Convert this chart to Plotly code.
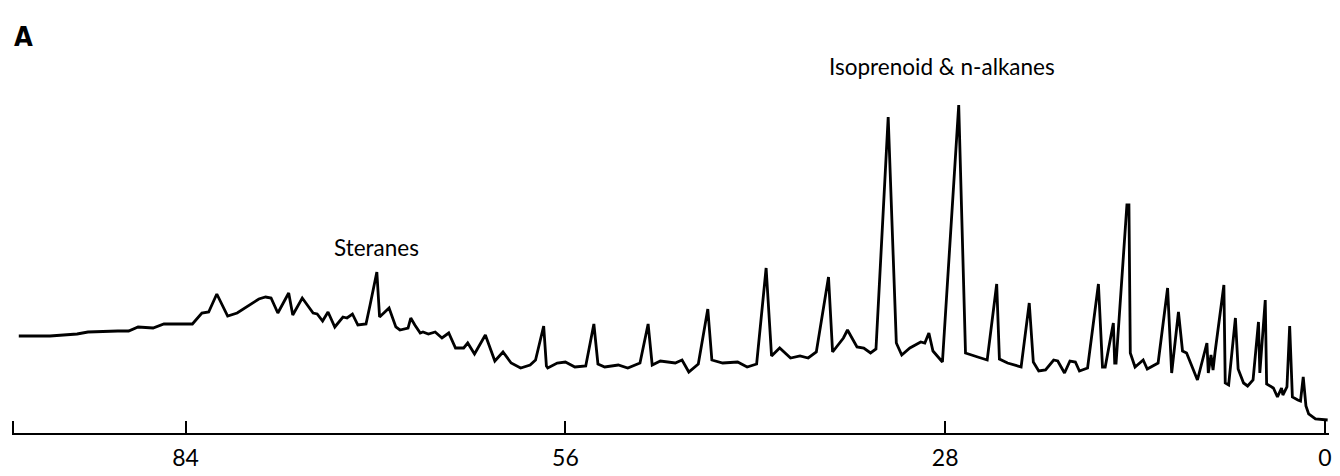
import plotly.graph_objects as go

# Retention time (min) and detector response (arbitrary units)
time_min = [
    96.3, 94.0, 92.0, 91.2, 89.0, 88.2, 87.5, 86.4, 85.6, 83.5, 82.8, 82.3, 81.7, 80.9, 80.2,
    78.6, 78.1, 77.7, 77.2, 76.4, 76.1, 75.4, 74.6, 74.3, 73.9, 73.5, 73.0, 72.4, 72.1, 71.7,
    71.3, 70.7, 70.4, 69.9, 69.7, 69.0, 68.5, 68.2, 67.6, 67.4, 67.1, 66.7, 66.5, 66.1, 65.6,
    65.1, 64.6, 64.1, 63.5, 63.2, 62.7, 61.9, 61.2, 60.6, 60.0, 59.3, 58.6, 58.2, 57.6, 57.4,
    57.3, 56.6, 56.0, 55.3, 54.5, 53.9, 53.6, 53.1, 52.1, 51.4, 50.5, 49.9, 49.6, 49.0, 47.9,
    47.4, 46.9, 46.2, 45.5, 45.2, 44.4, 43.3, 42.6, 41.9, 41.2, 40.8, 40.2, 39.4, 38.7, 38.1,
    37.5, 36.6, 36.3, 35.5, 35.2, 34.5, 34.0, 33.5, 33.1, 32.2, 31.6, 31.2, 30.6, 29.8, 29.5,
    29.2, 28.9, 28.2, 27.0, 26.5, 25.6, 24.9, 24.2, 24.0, 23.4, 22.4, 21.8, 21.5, 21.1, 20.6,
    20.0, 19.7, 19.2, 18.8, 18.4, 18.1, 17.5, 16.7, 16.4, 16.2, 15.6, 15.5, 15.4, 14.6, 14.45,
    14.35, 14.0, 13.4, 13.1, 12.3, 11.6, 11.3, 10.8, 10.5, 10.2, 9.9, 9.4, 8.7, 8.6, 8.4,
    8.25, 8.1, 7.45, 7.35, 7.1, 6.6, 6.4, 6.0, 5.7, 5.3, 4.9, 4.8, 4.4, 4.3, 3.8,
    3.5, 3.2, 3.1, 2.8, 2.6, 2.4, 2.0, 1.8, 1.6, 1.4, 1.2, 0.7, -0.2,
]
response = [
    97, 97, 99, 101, 102, 102, 106, 105, 109, 109, 120, 121, 139, 117, 120,
    134, 136, 135, 120, 140, 118, 135, 120, 119, 112, 121, 106, 116, 115, 119,
    108, 109, 128, 161, 116, 125, 106, 103, 105, 115, 108, 100, 101, 99, 101,
    95, 100, 85, 85, 90, 79, 98, 72, 81, 70, 65, 68, 73, 107, 67,
    65, 70, 71, 66, 67, 109, 69, 66, 68, 65, 70, 109, 68, 72, 70,
    73, 61, 69, 124, 73, 70, 71, 66, 69, 165, 77, 85, 75, 77, 75,
    81, 156, 81, 95, 103, 86, 85, 80, 84, 316, 90, 78, 85, 91, 90,
    100, 82, 71, 328, 80, 76, 73, 149, 74, 70, 66, 130, 71, 62, 63,
    73, 72, 60, 72, 71, 62, 65, 149, 66, 66, 110, 70, 70, 228, 228,
    80, 66, 73, 64, 70, 145, 60, 121, 82, 80, 70, 53, 90, 60, 78,
    63, 81, 148, 50, 48, 115, 64, 50, 47, 53, 111, 60, 133, 49, 45,
    36, 45, 38, 46, 107, 36, 33, 32, 56, 27, 19, 14, 13,
]

tick_vals = [96.7, 84, 56, 28, 0]
tick_text = ["", "84", "56", "28", "0"]

panel_label = "A"
label_sterane = "Steranes"
label_alkane = "Isoprenoid & n-alkanes"

fig = go.Figure()
fig.add_trace(go.Scatter(
    x=time_min, y=response, mode="lines",
    line=dict(color="black", width=2.8),
    hoverinfo="skip", showlegend=False,
))

label_font = dict(family="Lato, 'Open Sans', sans-serif", size=22.5, color="black")
fig.add_annotation(x=69.9, y=186, text=label_sterane, showarrow=False,
                   xanchor="center", yanchor="middle", font=label_font)
fig.add_annotation(x=28.2, y=367, text=label_alkane, showarrow=False,
                   xanchor="center", yanchor="middle", font=label_font)
fig.add_annotation(x=0, xref="paper", y=397, text=panel_label, showarrow=False,
                   xanchor="left", yanchor="middle",
                   font=dict(family="'DejaVu Sans Condensed', 'Liberation Sans Narrow', sans-serif",
                             size=27, color="black", weight="bold"))

fig.update_xaxes(
    range=[96.8, -0.3], showgrid=False, zeroline=False,
    showline=True, linecolor="black", linewidth=2,
    ticks="inside", ticklen=12, tickwidth=2, tickcolor="black",
    tickvals=tick_vals, ticktext=tick_text,
    tickfont=dict(family="Lato, 'Open Sans', sans-serif", size=23, color="black"),
    ticklabelstandoff=3,
)
fig.update_yaxes(range=[0, 425], visible=False, showgrid=False, zeroline=False)

fig.update_layout(
    width=1332, height=468,
    margin=dict(l=4, r=11, t=0, b=43),
    paper_bgcolor="white", plot_bgcolor="white",
    showlegend=False,
)

fig.write_html("out.html")
